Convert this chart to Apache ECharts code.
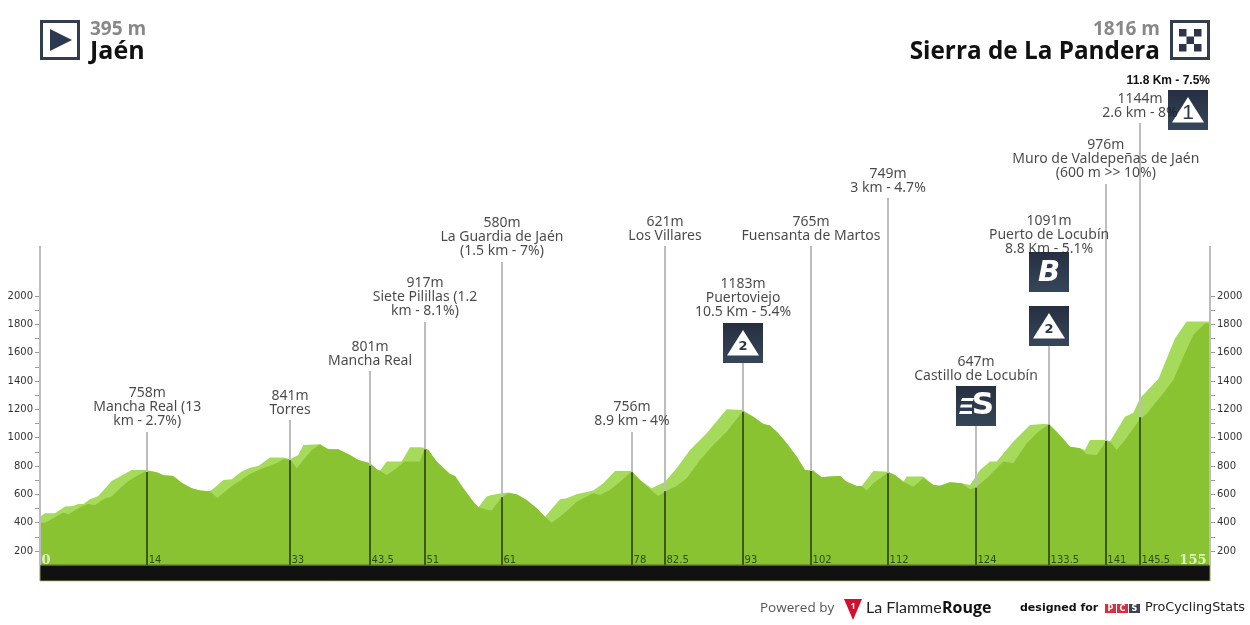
<!DOCTYPE html>
<html><head><meta charset="utf-8">
<style>html,body{margin:0;padding:0;background:#fff}#c{width:1250px;height:625px}</style>
<script src="https://cdn.jsdelivr.net/npm/echarts@6/dist/echarts.min.js"></script>
</head><body><div id="c"></div>
<script>
// Profile seen in front (km, metres)
const frontProfile = [[0,400],[.66,400],[1.77,431],[3.09,471],[3.75,459],[5.08,501],[5.74,518],[6.4,532],[7.29,522],[8.39,565],[9.49,584],[10.6,642],[11.7,694],[12.81,729],[14.13,767],[15.46,755],[16.34,734],[17.66,729],[18.77,682],[20.09,642],[21.2,626],[22.52,621],[23.49,574],[24.51,619],[25.61,666],[26.5,696],[27.6,736],[28.7,767],[30.03,795],[31.35,819],[32.24,847],[33.12,847],[34,784],[34.89,842],[35.99,913],[37.09,951],[38.2,918],[39.52,918],[41.07,878],[42.17,842],[43.72,819],[44.6,776],[45.04,767],[45.93,736],[47.25,784],[48.22,831],[50.34,831],[50.96,925],[51.44,913],[52.55,831],[54.31,744],[54.98,729],[56.08,642],[57.41,548],[58.07,508],[59.39,489],[59.83,485],[61.16,579],[62.04,607],[63.15,600],[64.47,560],[65.8,501],[66.9,442],[67.78,400],[68.89,442],[70.21,501],[71.1,548],[71.98,572],[73.3,607],[74.19,595],[75.51,631],[76.84,689],[78.38,760],[79.49,701],[81.03,626],[81.91,588],[82.8,619],[84.34,659],[85.67,713],[87.43,842],[89.2,948],[90.97,1042],[93.09,1184],[94.5,1148],[95.83,1096],[96.71,1085],[97.81,1031],[98.92,960],[100.24,866],[101.34,772],[102.45,767],[103.55,720],[104.66,725],[105.98,729],[106.87,689],[108.19,659],[108.86,659],[109.52,626],[110.4,678],[112.39,755],[113.27,736],[114.38,689],[115.7,654],[117.02,713],[118.35,666],[119.23,661],[120.56,685],[122.1,678],[123.21,635],[124,649],[125.42,713],[126.74,784],[127.62,831],[128.95,819],[130.71,960],[132.26,1042],[133.67,1094],[134.69,1042],[136.46,936],[137.78,925],[138.66,882],[139.99,878],[141.22,972],[141.75,972],[142.64,913],[143.74,984],[145.73,1132],[146.61,1167],[147.72,1242],[148.82,1313],[150.14,1407],[151.47,1572],[152.79,1725],[154.34,1807],[155,1807]];
// Lighter profile seen behind it (km, metres)
const backProfile = [[0,442],[.66,466],[1.99,466],[3.31,513],[4.42,518],[5.08,532],[5.74,532],[6.62,565],[7.73,588],[9.49,694],[10.6,725],[12.14,772],[14.13,772],[15.46,755],[16.34,734],[17.66,729],[18.77,682],[20.09,642],[21.2,626],[22.52,621],[23.4,659],[24.29,701],[25.39,706],[26.72,760],[27.82,788],[28.92,800],[30.47,859],[32.24,859],[33.12,847],[34.22,878],[34.89,948],[37.09,953],[38.2,918],[39.52,918],[41.07,878],[42.17,842],[43.72,819],[44.6,776],[45.04,767],[45.93,831],[47.91,831],[49.02,932],[50.34,932],[50.96,929],[51.44,913],[52.55,831],[54.31,744],[54.98,729],[56.08,642],[57.41,548],[58.07,508],[59.17,584],[59.83,595],[61.16,607],[62.04,612],[63.15,600],[64.47,560],[65.8,501],[66.9,442],[68.89,565],[69.77,572],[71.1,600],[73.3,626],[74.63,678],[76.17,765],[78.38,765],[79.49,701],[81.03,642],[82.8,689],[84.34,784],[86.11,913],[88.32,1031],[90.97,1200],[93.09,1195],[94.5,1148],[95.83,1096],[96.71,1085],[97.81,1031],[98.92,960],[100.24,866],[101.34,772],[102.45,767],[103.55,720],[104.66,725],[105.98,729],[106.87,689],[108.19,659],[108.86,659],[110.4,765],[112.39,759],[113.27,736],[114.38,689],[114.82,725],[117.02,725],[118.35,666],[119.23,661],[120.56,685],[122.1,678],[123.21,666],[124.53,772],[125.86,831],[126.74,831],[128.95,972],[131.16,1089],[132.92,1096],[133.67,1094],[134.69,1042],[136.46,936],[137.78,925],[138.44,913],[139.1,984],[141.31,984],[141.75,972],[143.74,1148],[144.85,1176],[145.73,1278],[148.16,1414],[150.37,1701],[151.91,1819],[155,1819]];
// Waypoints
const markerKm    = [14.2,33.12,43.72,51,61.2,78.43,82.8,93.14,102.15,112.35,124,133.68,141.2,145.73];
const markerTicks = ['14','33','43.5','51','61','78','82.5','93','102','112','124','133.5','141','145.5'];
const markerElev  = [758,841,801,917,580,756,621,1183,765,749,647,1091,976,1144];
const markerNotes = ['Mancha Real (13\nkm - 2.7%)','Torres','Mancha Real','Siete Pilillas (1.2\nkm - 8.1%)','La Guardia de Jaén\n(1.5 km - 7%)','8.9 km - 4%','Los Villares','Puertoviejo\n10.5 Km - 5.4%','Fuensanta de Martos','3 km - 4.7%','Castillo de Locubín','Puerto de Locubín\n8.8 Km - 5.1%','Muro de Valdepeñas de Jaén\n(600 m >> 10%)','2.6 km - 8%'];
const poleTop     = [1040,1124,1470,1816,2240,1040,2352,1527,2352,2691,1082,1647,2790,3220];
const labelBase   = [1040,1124,1470,1816,2240,1040,2352,1809,2352,2691,1364,2254,2790,3220];
const yTicks      = [200,400,600,800,1000,1200,1400,1600,1800,2000];
const yMinorTicks = [200,300,400,500,600,700,800,900,1000,1100,1200,1300,1400,1500,1600,1700,1800,1900,2000];
const totalKm = 155, floorElev = 101, yMin = -12, yMax = 3383, axisTop = 2352, kmLabelElev = 133;

const GREY='#bdbdbd', DARKPOLE='#3c5a10', NAVY='#2b3648', FONT='"DejaVu Sans"', LABELFONT='"Noto Sans"', HEAD='"Open Sans"';
const inv={show:false};
function yAxis(pos){return {type:'value',min:yMin,max:yMax,position:pos,splitLine:inv,axisLine:inv,
  axisTick:{show:true,length:5,lineStyle:{color:'#999',width:1},customValues:yMinorTicks},
  axisLabel:{color:'#333',fontFamily:FONT,fontSize:10,margin:7,customValues:yTicks,formatter:v=>String(v)}};}
function pole(km,a,b){return [{coord:[km,a]},{coord:[km,b]}];}

function badge(x,y,inner){return {type:'group',x:x,y:y,children:[
  {type:'rect',shape:{width:40,height:40},style:{fill:{type:'linear',x:0,y:0,x2:0,y2:1,colorStops:[{offset:0,color:'#262f41'},{offset:1,color:'#36465a'}]}}}].concat(inner)};}
function triBadge(x,y,num,font,dy){return badge(x,y,[
  {type:'polygon',shape:{points:[[20,7],[36,32.5],[4,32.5]]},style:{fill:'#fff'}},
  {type:'text',x:20,y:dy,style:{text:num,fill:NAVY,font:font,align:'center',verticalAlign:'middle'}}]);}

const graphics=[
 // start
 {type:'rect',shape:{x:41.5,y:21.5,width:37,height:37},style:{fill:'#fff',stroke:'#323e4f',lineWidth:3}},
 {type:'polygon',shape:{points:[[50,29],[72,40],[50,51]]},style:{fill:'#2b3a50'}},
 {type:'text',x:90,y:30,style:{text:'395 m',fill:'#888',font:'bold 19px '+HEAD,verticalAlign:'middle'}},
 {type:'text',x:90,y:52,style:{text:'Jaén',fill:'#111',font:'bold 25px '+HEAD,verticalAlign:'middle'}},
 // finish
 {type:'group',x:1170,y:20,children:[
   {type:'rect',shape:{x:1.5,y:1.5,width:37,height:37},style:{fill:'#fff',stroke:'#323e4f',lineWidth:3}}].concat(
   [[0,0],[2,0],[1,1],[0,2],[2,2]].map(p=>({type:'rect',shape:{x:9+p[0]*7.5,y:9+p[1]*7.5,width:7.5,height:7.5},style:{fill:NAVY}})))},
 {type:'text',x:1160,y:30,style:{text:'1816 m',fill:'#888',font:'bold 19px '+HEAD,align:'right',verticalAlign:'middle'}},
 {type:'text',x:1160,y:52,style:{text:'Sierra de La Pandera',fill:'#111',font:'bold 24.3px '+HEAD,align:'right',verticalAlign:'middle'}},
 {type:'text',x:1210,y:81,style:{text:'11.8 Km - 7.5%',fill:'#111',font:'bold 12px "Liberation Sans Narrow","Liberation Sans"',align:'right',verticalAlign:'middle'}},
 // climb badges
 triBadge(723,323,'2','bold 13px '+FONT,24),
 triBadge(1029,306,'2','bold 13px '+FONT,24),
 triBadge(1168,90,'1','21px "Liberation Sans Narrow","Liberation Sans"',23),
 badge(956,386,[
   {type:'text',x:27,y:20,style:{text:'S',fill:'#fff',font:'bold 31px '+FONT,align:'center',verticalAlign:'middle'}},
   {type:'polygon',shape:{points:[[6,12],[18,12],[17,15],[5,15]]},style:{fill:'#fff'}},
   {type:'polygon',shape:{points:[[5,18.5],[16,18.5],[16,21.5],[4,21.5]]},style:{fill:'#fff'}},
   {type:'polygon',shape:{points:[[4,25],[16,25],[16,28],[3,28]]},style:{fill:'#fff'}}]),
 badge(1029,252,[{type:'text',x:20,y:21,style:{text:'B',fill:'#fff',font:'italic bold 29px '+FONT,align:'center',verticalAlign:'middle'}}]),
 // footer
 {type:'text',x:760,y:608,style:{text:'Powered by',fill:'#555',font:'13.5px '+HEAD,verticalAlign:'middle'}},
 {type:'polygon',shape:{points:[[844,599],[862,599],[853,620]]},style:{fill:'#d0102e'}},
 {type:'text',x:853,y:606,style:{text:'1',fill:'#fff',font:'bold 9px '+HEAD,align:'center',verticalAlign:'middle'}},
 {type:'text',x:866,y:608,style:{text:'La Flamme',fill:'#222',font:'16px Lato',verticalAlign:'middle'}},
 {type:'text',x:942,y:608,style:{text:'Rouge',fill:'#111',font:'bold 16px '+HEAD,verticalAlign:'middle'}},
 {type:'text',x:1020,y:608,style:{text:'designed for',fill:'#111',font:'bold 11px "DejaVu Sans"',verticalAlign:'middle'}},
 {type:'rect',shape:{x:1105,y:604,width:11,height:9},style:{fill:'#d9303e'}},
 {type:'text',x:1110.5,y:608.5,style:{text:'P',fill:'#fff',font:'bold 8px '+FONT,align:'center',verticalAlign:'middle'}},
 {type:'rect',shape:{x:1117,y:604,width:11,height:9},style:{fill:'#d9303e'}},
 {type:'text',x:1122.5,y:608.5,style:{text:'C',fill:'#fff',font:'bold 8px '+FONT,align:'center',verticalAlign:'middle'}},
 {type:'rect',shape:{x:1129,y:604,width:11,height:9},style:{fill:'#3a4454'}},
 {type:'text',x:1134.5,y:608.5,style:{text:'S',fill:'#fff',font:'bold 8px '+FONT,align:'center',verticalAlign:'middle'}},
 {type:'text',x:1145,y:608,style:{text:'ProCyclingStats',fill:'#222',font:'12.8px '+FONT,verticalAlign:'middle'}}
];

const chart=echarts.init(document.getElementById('c'),null,{renderer:'canvas'});
chart.setOption({
 animation:false,backgroundColor:'#fff',
 grid:{left:40,width:1170,top:100,height:481,containLabel:false},
 xAxis:{type:'value',min:0,max:totalKm,show:false},
 yAxis:[yAxis('left'),yAxis('right')],
 graphic:graphics,
 series:[
  {type:'line',data:backProfile,showSymbol:false,z:1,lineStyle:{width:0},areaStyle:{color:'#a5da5b',opacity:1,origin:'start'},silent:true},
  {type:'line',data:frontProfile,showSymbol:false,z:2,lineStyle:{width:0},areaStyle:{color:'#8ac332',opacity:1,origin:'start'},silent:true},
  {type:'line',data:[[0,floorElev],[totalKm,floorElev]],showSymbol:false,z:3,silent:true,lineStyle:{width:1.5,color:'#64842a'},areaStyle:{color:'#111',opacity:1,origin:'start'}},
  {type:'line',data:[[0,floorElev],[0,yMin],[totalKm,yMin],[totalKm,floorElev]],showSymbol:false,z:3,silent:true,lineStyle:{width:1,color:'#8a9a5a'}},
  {type:'line',data:[],z:4,silent:true,markLine:{silent:true,symbol:'none',label:{show:false},animation:false,
    lineStyle:{color:GREY,width:2,type:'solid'},
    data:markerKm.map((k,i)=>pole(k,markerElev[i],poleTop[i])).concat([pole(0,floorElev,axisTop),pole(totalKm,floorElev,axisTop)])}},
  {type:'line',data:[],z:5,silent:true,markLine:{silent:true,symbol:'none',label:{show:false},animation:false,
    lineStyle:{color:DARKPOLE,width:2,type:'solid'},
    data:markerKm.map((k,i)=>pole(k,floorElev,markerElev[i]))}},
  {type:'scatter',z:30,silent:true,symbolSize:1,itemStyle:{color:'transparent'},
    data:markerKm.map((k,i)=>({value:[k,labelBase[i]],label:{formatter:markerElev[i]+'m\n'+markerNotes[i]}})),
    label:{show:true,position:'top',distance:3,color:'#1a1a1a',fontFamily:LABELFONT,fontSize:14,lineHeight:14,align:'center'}},
  {type:'scatter',z:6,silent:true,symbolSize:1,itemStyle:{color:'transparent'},
    data:markerKm.map((k,i)=>({value:[k,kmLabelElev],label:{formatter:markerTicks[i]}})),
    label:{show:true,position:'right',distance:1,color:'#12300a',fontFamily:FONT,fontSize:10}},
  {type:'scatter',z:6,silent:true,symbolSize:1,itemStyle:{color:'transparent'},
    data:[{value:[0,kmLabelElev],label:{formatter:'0',position:'right',distance:1}},{value:[totalKm,kmLabelElev],label:{formatter:String(totalKm),position:'left',distance:3}}],
    label:{show:true,color:'#f4fae6',fontFamily:'"DejaVu Serif"',fontWeight:'bold',fontSize:13}}
 ]
});
</script></body></html>
